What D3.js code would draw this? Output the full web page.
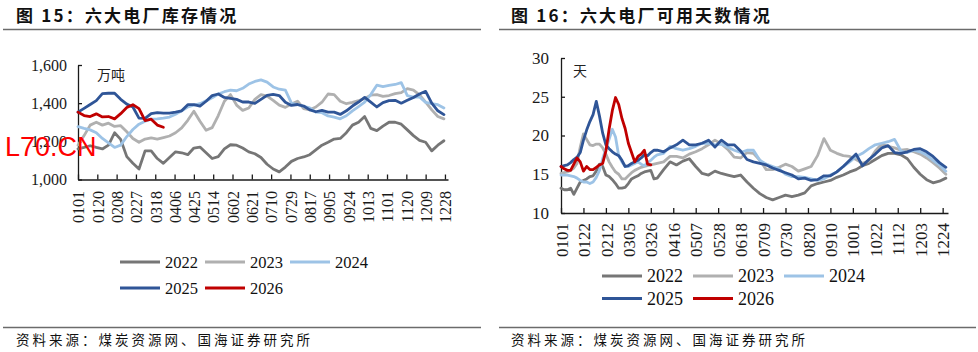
<!DOCTYPE html>
<html><head><meta charset="utf-8">
<script src="https://cdn.jsdelivr.net/npm/d3@7"></script>
<style>body{margin:0;background:#fff}svg{display:block}</style>
</head><body>
<svg id="c" width="978" height="352"></svg>
<script>
// ---------------- data ----------------
const years = ["2022", "2023", "2024", "2025", "2026"];
const colors = ["#767676", "#b0b0b0", "#9dc3e6", "#2f5597", "#c00000"];

// left chart: inventory (万吨), sampled every 6 days (day of year)
const invDays = [0,6,12,18,24,30,36,42,48,54,60,66,72,78,84,90,96,102,108,114,120,126,132,138,144,150,156,162,168,174,180,186,192,198,204,210,216,222,228,234,240,246,252,258,264,270,276,282,288,294,300,306,312,318,324,330,336,342,348,354,360];
const inv2022 = [1160,1168,1177,1168,1160,1180,1245,1210,1120,1085,1055,1150,1150,1110,1085,1115,1145,1140,1130,1165,1170,1140,1110,1120,1160,1182,1180,1165,1145,1135,1115,1080,1055,1040,1065,1095,1110,1118,1130,1155,1180,1195,1212,1215,1245,1285,1300,1330,1268,1256,1280,1300,1300,1290,1260,1230,1205,1195,1150,1180,1203];
const inv2023 = [1180,1230,1285,1300,1285,1295,1278,1282,1250,1215,1195,1212,1218,1212,1220,1228,1245,1270,1310,1358,1305,1258,1272,1335,1410,1445,1390,1362,1375,1420,1445,1437,1415,1390,1378,1395,1410,1372,1365,1380,1405,1448,1445,1410,1397,1404,1413,1425,1442,1445,1436,1440,1450,1455,1476,1468,1444,1405,1365,1330,1318];
const inv2024 = [1277,1268,1260,1245,1215,1192,1168,1180,1225,1262,1290,1305,1316,1318,1322,1327,1342,1360,1380,1390,1397,1412,1428,1448,1460,1468,1465,1478,1500,1514,1522,1510,1485,1473,1468,1400,1392,1383,1375,1353,1350,1333,1327,1318,1334,1360,1382,1405,1445,1494,1487,1493,1498,1508,1440,1432,1432,1404,1397,1392,1375];
const inv2025 = [1353,1373,1393,1413,1450,1452,1452,1420,1395,1380,1322,1320,1345,1350,1348,1348,1353,1360,1392,1392,1385,1410,1440,1448,1430,1425,1420,1406,1406,1399,1420,1441,1446,1440,1405,1388,1393,1385,1365,1355,1362,1353,1353,1341,1360,1385,1406,1430,1405,1380,1403,1413,1415,1400,1415,1430,1448,1462,1400,1360,1340];
const inv2026 = [1353,1335,1330,1344,1328,1330,1318,1345,1377,1392,1371,1309,1316,1285,1274];
const invTickLabels = ["0101","0120","0208","0227","0318","0406","0425","0514","0602","0621","0710","0729","0817","0905","0924","1013","1101","1120","1209","1228"];
const invYTicks = [1000, 1200, 1400, 1600];

// right chart: available days (天), every 3 days to day 90, then every 6 days
const dayDays = [0,3,6,9,12,15,18,21,24,27,30,33,36,39,42,45,48,51,54,57,60,63,66,69,72,75,78,81,84,87,90,96,102,108,114,120,126,132,138,144,150,156,162,168,174,180,186,192,198,204,210,216,222,228,234,240,246,252,258,264,270,276,282,288,294,300,306,312,318,324,330,336,342,348,354,360];
const day2022 = [13.2,13.0,13.0,13.2,12.4,13.2,14.0,14.2,14.4,14.7,14.8,15.4,16.3,16.0,14.9,14.7,14.3,13.8,13.2,13.2,13.3,13.8,14.4,14.6,14.8,15.1,15.3,15.4,15.5,14.4,14.5,
  15.6,16.6,16.2,16.7,17.0,16.0,15.1,14.9,15.4,15.1,14.9,14.7,14.9,14.0,13.2,12.5,12.0,11.7,12.0,12.3,12.1,12.3,12.6,13.5,13.8,14.0,14.2,14.6,14.9,15.3,15.6,16.1,16.4,16.9,17.4,17.7,17.7,17.5,17.0,15.9,15.0,14.3,13.9,14.1,14.5];
const day2023 = [15.1,15.2,15.3,15.5,15.8,16.4,18.5,20.2,19.5,18.8,18.7,18.9,18.9,18.4,17.6,16.6,15.9,15.3,15.0,14.4,14.4,14.8,15.2,15.5,15.7,15.9,16.0,16.1,16.2,16.3,16.4,
  16.6,17.3,17.3,17.1,17.6,17.9,18.3,18.8,19.4,18.9,18.2,17.2,17.1,17.8,17.7,16.8,15.6,15.6,15.9,16.3,16.0,15.4,15.7,16.0,17.4,19.6,18.1,17.7,17.4,17.3,16.9,16.4,16.7,18.0,18.9,18.6,18.4,18.1,18.2,17.9,17.6,17.1,16.5,15.8,15.0];
const day2024 = [14.9,14.9,14.9,14.8,14.7,14.5,14.2,14.0,14.0,13.8,14.0,14.6,15.5,17.0,18.3,19.5,20.8,19.8,17.4,16.6,16.0,16.0,16.2,16.4,16.6,16.3,16.1,16.5,16.8,17.2,17.5,
  17.7,18.6,18.3,18.1,18.3,18.6,19.0,19.0,18.8,18.9,18.5,18.1,17.8,18.1,18.1,16.8,16.3,16.0,15.7,15.0,14.7,14.7,14.6,14.4,14.2,14.4,14.9,15.3,16.0,16.6,17.3,17.7,18.3,18.8,19.0,19.2,19.5,18.0,17.8,18.1,17.9,17.5,16.8,16.2,15.4];
const day2025 = [16.0,16.1,16.2,16.5,16.9,17.2,17.8,19.4,20.7,21.8,22.7,24.4,22.5,20.3,18.8,18.3,17.9,17.6,17.4,16.8,16.0,16.1,16.4,16.6,16.8,17.1,17.5,17.4,17.8,18.1,18.1,
  17.9,18.4,18.8,19.4,18.8,18.8,19.0,19.4,18.5,19.4,18.8,18.8,18.0,16.9,16.6,16.4,16.2,15.8,15.5,15.2,14.9,14.4,14.5,14.2,14.3,14.8,14.8,15.3,16.0,16.8,17.6,16.1,16.9,17.6,18.4,18.7,17.8,17.7,17.9,18.2,18.3,17.9,17.3,16.5,15.9];
const day2026 = [16.0,15.7,15.5,15.5,16.3,17.1,16.6,15.4,16.0,15.6,15.6,15.9,16.2,16.4,18.0,20.8,23.2,24.9,24.0,22.2,20.9,19.0,17.8,16.6,17.3,17.6,18.1,16.3,16.2];
const dayTickLabels = ["0101","0122","0212","0305","0326","0416","0507","0528","0618","0709","0730","0820","0910","1001","1022","1112","1203","1224"];
const dayYTicks = [10, 15, 20, 25, 30];

const titles = ["图 15：六大电厂库存情况", "图 16：六大电厂可用天数情况"];
const units = ["万吨", "天"];
const source = "资料来源：煤炭资源网、国海证券研究所";

// ---------------- drawing ----------------
const svg = d3.select("#c");
const parse = d3.timeParse("%Y%m%d");
const doy = s => d3.timeDay.count(new Date(2023, 0, 1), parse("2023" + s));
const SERIF = "'Liberation Serif','Times New Roman',serif";
const CJK = "'Noto Sans CJK SC','Noto Sans',sans-serif";

function header(x0, x1, title, tx) {
  svg.append("text").attr("x", tx).attr("y", 21.5)
    .style("font-family", CJK).style("font-weight", "700").style("font-size", "17px")
    .style("letter-spacing", "2.2px").attr("fill", "#111").text(title);
  svg.append("line").attr("x1", x0).attr("x2", x1).attr("y1", 29.5).attr("y2", 29.5)
    .attr("stroke", "#6b6b6b").attr("stroke-width", 1.4);
  svg.append("line").attr("x1", x0).attr("x2", x1).attr("y1", 327.5).attr("y2", 327.5)
    .attr("stroke", "#6b6b6b").attr("stroke-width", 1.4);
  svg.append("text").attr("x", tx).attr("y", 345)
    .style("font-family", CJK).style("font-size", "13.5px").style("letter-spacing", "3px")
    .attr("fill", "#111").text(source);
}

function chart(cfg) {
  const g = svg.append("g");
  const x = d3.scaleLinear().domain(cfg.xDomain).range(cfg.xRange);
  const y = d3.scaleLinear().domain(cfg.yDomain).range(cfg.yRange);

  const yAxis = d3.axisLeft(y).tickValues(cfg.yTicks).tickFormat(cfg.yFormat)
    .tickSizeInner(-4).tickSizeOuter(0).tickPadding(cfg.yPad);
  const ya = g.append("g").attr("transform", `translate(${cfg.xRange[0]},0)`).call(yAxis);

  const tickDays = cfg.tickLabels.map(doy);
  const xAxis = d3.axisBottom(x).tickValues(tickDays)
    .tickFormat((d, i) => cfg.tickLabels[i]).tickSizeInner(-5).tickSizeOuter(0);
  const xa = g.append("g").attr("transform", `translate(0,${cfg.yRange[0]})`).call(xAxis);
  xa.selectAll("text").attr("transform", "rotate(-90)").attr("x", -cfg.xPad).attr("y", 0)
    .attr("dy", "0.36em").style("text-anchor", "end");

  [ya, xa].forEach(a => {
    a.selectAll("path,line").attr("stroke", "#1a1a1a").attr("stroke-width", 1.3);
    a.selectAll("text").style("font-family", SERIF).style("font-size", cfg.font + "px").attr("fill", "#1a1a1a");
  });

  g.append("text").attr("x", cfg.unitX).attr("y", cfg.unitY)
    .style("font-family", CJK).style("font-size", "14px").attr("fill", "#222").text(cfg.unit);

  const line = d3.line().x(d => x(d[0])).y(d => y(d[1])).curve(d3.curveLinear);
  cfg.series.forEach((vals, k) => {
    const pts = vals.map((v, i) => [cfg.days[i], v]);
    g.append("path").attr("d", line(pts)).attr("fill", "none")
      .attr("stroke", colors[k]).attr("stroke-width", 2.8)
      .attr("stroke-linejoin", "round").attr("stroke-linecap", "round");
  });

  // legend
  const lg = g.append("g");
  years.forEach((yr, k) => {
    const row = k < 3 ? 0 : 1, col = k < 3 ? k : k - 3;
    const lx = cfg.legX + col * cfg.legStep, ly = cfg.legY + row * cfg.legRow;
    lg.append("line").attr("x1", lx).attr("x2", lx + 40).attr("y1", ly).attr("y2", ly)
      .attr("stroke", colors[k]).attr("stroke-width", 3);
    lg.append("text").attr("x", lx + 45).attr("y", ly).attr("dy", "0.35em")
      .style("font-family", SERIF).style("font-size", cfg.legFont + "px").attr("fill", "#111").text(yr);
  });
}

header(3, 481, titles[0], 16);
header(499, 976, titles[1], 511);

chart({
  xDomain: [0, 364], xRange: [78, 448], yDomain: [1000, 1600], yRange: [179.5, 65],
  yTicks: invYTicks, yFormat: d3.format(","), yPad: 11, xPad: 11.5, font: 16,
  tickLabels: invTickLabels, days: invDays,
  series: [inv2022, inv2023, inv2024, inv2025, inv2026],
  unit: units[0], unitX: 97, unitY: 80,
  legX: 120, legY: 262, legStep: 85, legRow: 26, legFont: 16.5
});

chart({
  xDomain: [0, 362], xRange: [561, 948], yDomain: [10, 30], yRange: [213, 58],
  yTicks: dayYTicks, yFormat: d3.format("d"), yPad: 12, xPad: 10, font: 17,
  tickLabels: dayTickLabels, days: dayDays,
  series: [day2022, day2023, day2024, day2025, day2026],
  unit: units[1], unitX: 573, unitY: 76,
  legX: 602, legY: 276, legStep: 91, legRow: 22.5, legFont: 18
});

// watermark
svg.append("text").attr("x", 5).attr("y", 155.5)
  .style("font-family", "'Liberation Sans',Arial,sans-serif").style("font-size", "27px")
  .attr("fill", "#ff0000").text("L70.CN");
</script>
</body></html>
